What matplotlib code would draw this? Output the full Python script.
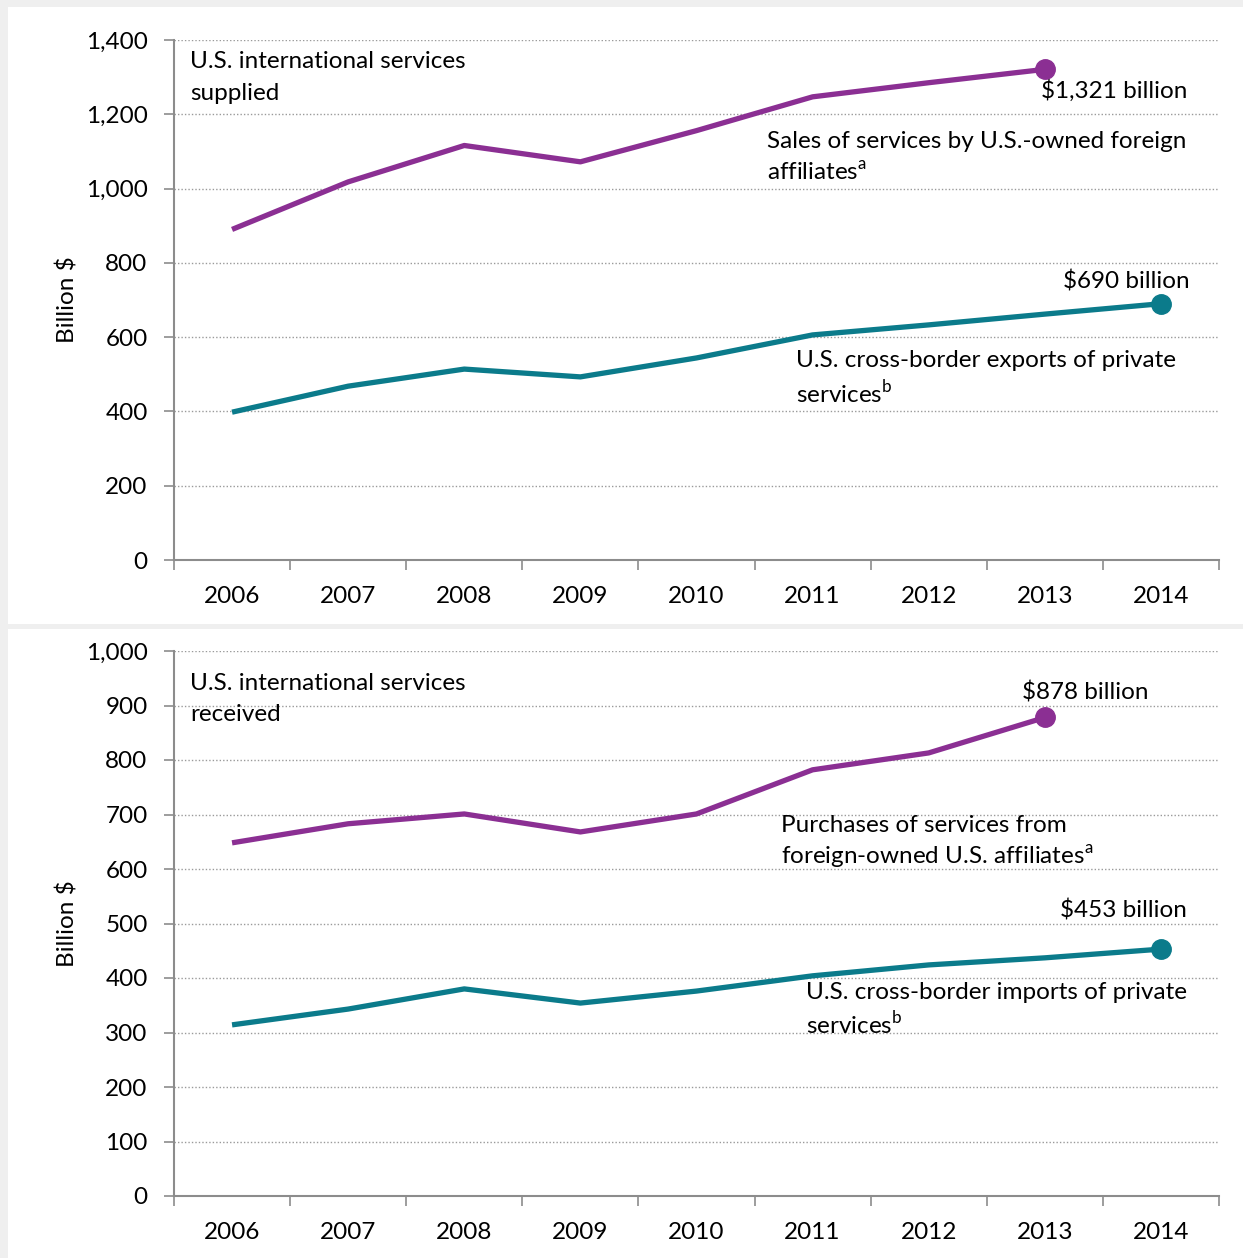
import matplotlib.pyplot as plt
from matplotlib.patches import Rectangle
from matplotlib.ticker import FuncFormatter, FixedLocator

plt.rcParams['font.family'] = ['Lato', 'DejaVu Sans']
plt.rcParams['mathtext.fontset'] = 'custom'
plt.rcParams['mathtext.rm'] = 'Lato'

years = ['2006', '2007', '2008', '2009', '2010', '2011', '2012', '2013', '2014']

# services supplied (billion $)
affiliate_sales = [890, 1018, 1116, 1072, 1156, 1247, 1285, 1321]
cross_border_exports = [398, 468, 514, 493, 544, 606, 633, 662, 690]

# services received (billion $)
affiliate_purchases = [648, 683, 701, 668, 701, 782, 813, 878]
cross_border_imports = [314, 343, 380, 354, 376, 404, 424, 437, 453]

PURPLE = '#8b2f93'
TEAL = '#0b7b8b'
GRID = '#9a9a9a'
SPINE = '#8c8c8c'
FS = 17.5

fig = plt.figure(figsize=(12.43, 12.58), dpi=100)
fig.patch.set_facecolor('#efefef')
W, H = 1243, 1258
for (x0, y0, x1, y1) in [(8, 7, 1243, 624), (8, 629, 1243, 1258)]:
    fig.patches.append(Rectangle((x0 / W, 1 - y1 / H), (x1 - x0) / W, (y1 - y0) / H,
                                 transform=fig.transFigure, facecolor='white',
                                 edgecolor='none', zorder=-5))


def make_axes(rect, ymax, ystep, top, bottom):
    ax = fig.add_axes(rect)
    ax.set_facecolor('none')
    n = len(years)
    ax.set_xlim(-0.5, n - 0.5)
    ax.set_ylim(0, ymax)
    ax.set_yticks(range(0, ymax + 1, ystep))
    ax.yaxis.set_major_formatter(FuncFormatter(lambda v, p: f'{int(v):,}'))
    ax.xaxis.set_major_locator(FixedLocator([i - 0.5 for i in range(n + 1)]))
    ax.xaxis.set_minor_locator(FixedLocator(range(n)))
    ax.set_xticklabels([])
    ax.set_xticklabels(years, minor=True)
    ax.tick_params(axis='x', which='major', length=7, width=1.2, color=SPINE, direction='out')
    ax.tick_params(axis='x', which='minor', length=0, labelsize=FS, pad=19)
    ax.tick_params(axis='y', length=7, width=1.2, color=SPINE, labelsize=FS, pad=12)
    for s in ['top', 'right']:
        ax.spines[s].set_visible(False)
    for s in ['left', 'bottom']:
        ax.spines[s].set_color(SPINE)
        ax.spines[s].set_linewidth(1.5)
    ax.yaxis.grid(True, color=GRID, linestyle=(0, (1, 1.5)), linewidth=1)
    ax.set_axisbelow(True)
    ax.set_ylabel('Billion $', fontsize=FS, labelpad=5)

    ax.plot(range(len(top)), top, color=PURPLE, lw=3.8, solid_capstyle='butt', zorder=3)
    ax.plot(len(top) - 1, top[-1], 'o', color=PURPLE, ms=14, zorder=4)
    ax.plot(range(len(bottom)), bottom, color=TEAL, lw=3.8, solid_capstyle='butt', zorder=3)
    ax.plot(len(bottom) - 1, bottom[-1], 'o', color=TEAL, ms=14, zorder=4)
    return ax


ax1 = make_axes([174 / W, 1 - 560 / H, 1045 / W, 520 / H], 1400, 200,
                affiliate_sales, cross_border_exports)
ax1.text(-0.36, 1342, 'U.S. international services', fontsize=FS, va='center')
ax1.text(-0.36, 1255, 'supplied', fontsize=FS, va='center')
ax1.text(6.97, 1265, f'${affiliate_sales[-1]:,} billion', fontsize=FS, va='center')
ax1.text(4.61, 1128, 'Sales of services by U.S.-owned foreign', fontsize=FS, va='center')
ax1.text(4.61, 1042, r'affiliates$^\mathrm{a}$', fontsize=FS, va='center')
ax1.text(7.16, 751, f'${cross_border_exports[-1]:,} billion', fontsize=FS, va='center')
ax1.text(4.86, 536, 'U.S. cross-border exports of private', fontsize=FS, va='center')
ax1.text(4.86, 450, r'services$^\mathrm{b}$', fontsize=FS, va='center')

ax2 = make_axes([174 / W, 1 - 1196 / H, 1045 / W, 545 / H], 1000, 100,
                affiliate_purchases, cross_border_imports)
ax2.text(-0.36, 941, 'U.S. international services', fontsize=FS, va='center')
ax2.text(-0.36, 883, 'received', fontsize=FS, va='center')
ax2.text(6.80, 923, f'${affiliate_purchases[-1]:,} billion', fontsize=FS, va='center')
ax2.text(4.73, 679, 'Purchases of services from', fontsize=FS, va='center')
ax2.text(4.73, 622, r'foreign-owned U.S. affiliates$^\mathrm{a}$', fontsize=FS, va='center')
ax2.text(7.13, 523, f'${cross_border_imports[-1]:,} billion', fontsize=FS, va='center')
ax2.text(4.94, 374, 'U.S. cross-border imports of private', fontsize=FS, va='center')
ax2.text(4.94, 316, r'services$^\mathrm{b}$', fontsize=FS, va='center')

fig.savefig('out.png', dpi=100, facecolor=fig.get_facecolor())
